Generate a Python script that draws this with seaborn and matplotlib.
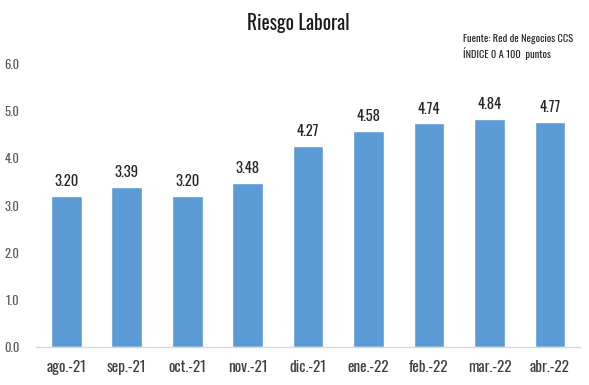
import matplotlib
matplotlib.use("Agg")
import matplotlib.pyplot as plt
import seaborn as sns
import pandas as pd

categories = ["ago.-21", "sep.-21", "oct.-21", "nov.-21", "dic.-21", "ene.-22", "feb.-22", "mar.-22", "abr.-22"]
values = [3.20, 3.39, 3.20, 3.48, 4.27, 4.58, 4.74, 4.84, 4.77]
yticks = [0, 1, 2, 3, 4, 5, 6]

sns.set_theme(style="white")
plt.rcParams['font.family'] = ['Oswald', 'DejaVu Sans']

df = pd.DataFrame({"mes": categories, "valor": values})
fig = plt.figure(figsize=(5.89, 3.85), dpi=100)
ax = fig.add_axes([0.061, 0.0987, 0.924, 0.735])
sns.barplot(data=df, x="mes", y="valor", color="#5B9BD5", saturation=1, width=0.51, ax=ax)
ax.set_ylim(0, 6)
ax.set_yticks(yticks)
ax.set_yticklabels([f"{t:.1f}" for t in yticks], color="#595959", fontsize=9)
ax.tick_params(axis="x", colors="#404040", labelsize=11, length=0, pad=9)
ax.tick_params(axis="y", length=0, pad=12)
ax.set_xlabel("")
ax.set_ylabel("")
for s in ["top", "right", "left"]:
    ax.spines[s].set_visible(False)
ax.spines["bottom"].set_color("#D9D9D9")
ax.spines["bottom"].set_linewidth(1)
for c in ax.containers:
    ax.bar_label(c, labels=[f"{v:.2f}" for v in values], padding=5, fontsize=10.5,
                 color="#262626", fontweight="medium")
fig.text(0.506, 0.94, "Riesgo Laboral", ha="center", va="center", fontsize=14, color="#1a1a1a")
fig.text(0.786, 0.9, "Fuente: Red de Negocios CCS", ha="left", va="center", fontsize=7.5, color="#262626")
fig.text(0.786, 0.862, "ÍNDICE 0 A 100  puntos", ha="left", va="center", fontsize=7.5, color="#262626")
fig.savefig("out.png", dpi=100)
